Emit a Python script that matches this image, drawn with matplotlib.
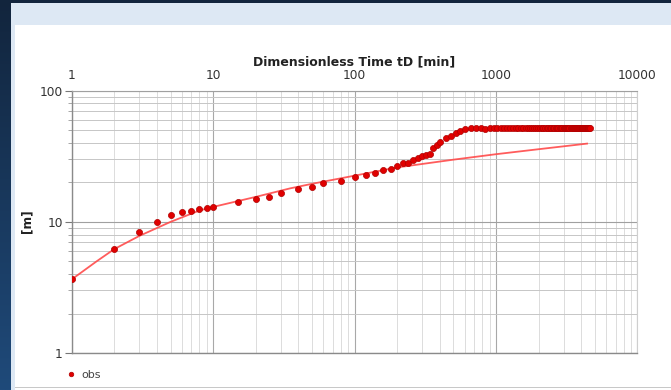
import numpy as np
import matplotlib
matplotlib.use("Agg")
import matplotlib.pyplot as plt
from matplotlib.patches import Rectangle
from matplotlib.ticker import FixedLocator, LogLocator, NullFormatter

# observed drawdown [m] against time [min]
obs_t = [1, 2, 3, 4, 5, 6, 7, 8, 9, 10, 15, 20, 25, 30, 40, 50, 60, 80,
         100, 120, 140, 160, 180, 200, 220, 240, 260, 280, 300, 320, 340,
         360, 380, 400, 440, 480, 520, 560, 600]
obs_s = [3.64, 6.2, 8.3, 9.9, 11.2, 11.9, 12.2, 12.5, 12.7, 13.0, 14.2, 15.0,
         15.5, 16.5, 17.8, 18.6, 19.7, 20.6, 21.9, 22.6, 23.4, 24.7, 25.4,
         26.6, 27.9, 28.1, 29.6, 30.8, 31.8, 32.6, 33.2, 36.3, 38.5, 40.8,
         43.3, 45.3, 47.2, 49.5, 51.4]

# late readings (hourly) once the level has flattened out
late_t = [660, 720, 780, 840, 900, 960, 1020, 1080, 1140, 1200, 1260, 1320,
          1380, 1440, 1500, 1560, 1620, 1680, 1740, 1800, 1860, 1920, 1980,
          2040, 2100, 2160, 2220, 2280, 2340, 2400, 2460, 2520, 2580, 2640,
          2700, 2760, 2820, 2880, 2940, 3000, 3060, 3120, 3180, 3240, 3300,
          3360, 3420, 3480, 3540, 3600, 3660, 3720, 3780, 3840, 3900, 3960,
          4020, 4080, 4140, 4200, 4260, 4320, 4380, 4440, 4500, 4560, 4620]
late_s = [51.6, 51.5, 51.7, 51.2, 51.6, 51.8, 51.7, 51.6, 51.5, 51.6,
          51.7, 51.6, 51.5, 51.6, 51.7, 51.6, 51.6, 51.5, 51.6, 51.7,
          51.6, 51.6, 51.8, 51.7, 51.6, 51.5, 51.6, 51.7, 51.6, 51.6,
          51.5, 51.6, 51.7, 51.8, 51.6, 51.5, 51.6, 51.7, 51.6, 51.6,
          51.7, 51.6, 51.5, 51.6, 51.7, 51.8, 51.6, 51.6, 51.5, 51.6,
          51.7, 51.6, 51.6, 51.7, 51.5, 51.6, 51.6, 51.7, 51.6, 51.5,
          51.6, 51.7, 51.6, 51.6, 51.7, 51.6, 51.6]

# fitted type curve
fit_t = [1, 1.5, 2, 3, 5, 8, 10, 20, 35, 50, 100, 200, 500, 1000, 2000, 4400]
fit_s = [3.64, 5.0, 6.2, 7.8, 10.0, 12.2, 13.0, 15.5, 18.0, 19.5, 22.5, 26.0,
         29.8, 32.8, 35.8, 39.5]

x_ticks = [1, 10, 100, 1000, 10000]
y_ticks = [1, 10, 100]

W, H = 671, 390
fig = plt.figure(figsize=(W / 100, H / 100), dpi=100)
fig.patch.set_facecolor("white")

# window frame behind the plot
bg = fig.add_axes([0, 0, 1, 1], zorder=-5)
bg.set_xlim(0, W)
bg.set_ylim(H, 0)
bg.axis("off")
grad = np.linspace(0, 1, 256).reshape(-1, 1)
cmap = matplotlib.colors.LinearSegmentedColormap.from_list("frame", ["#12253d", "#1f4a7a"])
bg.imshow(grad, cmap=cmap, extent=[0, 11, H, 0], aspect="auto")
bg.add_patch(Rectangle((0, 0), W, 3, color="#12253d", lw=0))
bg.add_patch(Rectangle((11, 3), W - 11, 22, color="#dde8f4", lw=0))
bg.add_patch(Rectangle((11, 3), 3.5, H, color="#dde8f4", lw=0))
bg.add_patch(Rectangle((14.5, 386.5), W, 1.6, color="#c8c8c8", lw=0))

ax = fig.add_axes([71.7 / W, 1 - 353 / H, (637.5 - 71.7) / W, (353 - 90.7) / H])
ax.set_xscale("log")
ax.set_yscale("log")
ax.set_xlim(1, 10000)
ax.set_ylim(1, 100)

ax.plot(fit_t, fit_s, color="#ff4a4a", lw=1.3, alpha=0.9, zorder=3)
pts, = ax.plot(obs_t + late_t, obs_s + late_s, "o", color="#e00000", ms=4.4,
               mec="#b00000", mew=0.5, zorder=4, label="obs")

ax.xaxis.set_major_locator(FixedLocator(x_ticks))
ax.set_xticklabels([str(v) for v in x_ticks])
ax.yaxis.set_major_locator(FixedLocator(y_ticks))
ax.set_yticklabels([str(v) for v in y_ticks])
ax.xaxis.set_minor_locator(LogLocator(base=10, subs=np.arange(2, 10), numticks=20))
ax.yaxis.set_minor_locator(LogLocator(base=10, subs=np.arange(2, 10), numticks=20))
ax.xaxis.set_minor_formatter(NullFormatter())
ax.yaxis.set_minor_formatter(NullFormatter())

ax.xaxis.tick_top()
ax.tick_params(axis="x", which="both", length=0, pad=6, labelsize=8.8, labelcolor="#333333")
ax.tick_params(axis="y", which="major", length=5, pad=1.5, color="#777777",
               labelsize=8.8, labelcolor="#333333")
ax.tick_params(axis="y", which="minor", length=3, color="#999999")

ax.xaxis.grid(True, which="major", color="#a8a8a8", lw=0.8)
ax.yaxis.grid(True, which="major", color="#a0a0a0", lw=0.8)
ax.xaxis.grid(True, which="minor", color="#dcdcdc", lw=0.7)
ax.yaxis.grid(True, which="minor", color="#c6c6c6", lw=0.7)
ax.set_axisbelow(True)

for side in ("left", "bottom"):
    ax.spines[side].set_color("#8a8a8a")
    ax.spines[side].set_linewidth(1.0)
ax.spines["right"].set_color("#cfcfcf")
ax.spines["top"].set_color("#a0a0a0")
ax.spines["top"].set_linewidth(0.8)

fig.text(354.6 / W, 1 - 65 / H, "Dimensionless Time tD [min]", ha="center",
         va="baseline", fontsize=9, fontweight="bold", color="#222222")
fig.text(27 / W, 1 - 221 / H, "[m]", ha="center", va="center", rotation=90,
         fontsize=8.8, fontweight="bold", color="#222222")

fig.legend(handles=[pts], labels=["obs"], loc="center left",
           bbox_to_anchor=(68 / W, 1 - 375 / H), frameon=False, fontsize=8,
           handlelength=0.6, handletextpad=0.6, borderpad=0, borderaxespad=0,
           markerscale=0.75, labelcolor="#444444")

fig.savefig("out.png", dpi=100)
